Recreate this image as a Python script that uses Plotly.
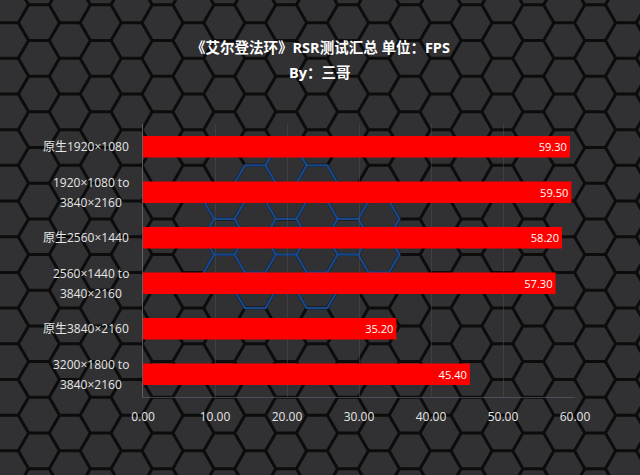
import math
import plotly.graph_objects as go

# 数据
labels = ['原生1920×1080', '1920×1080 to 3840×2160', '原生2560×1440',
          '2560×1440 to 3840×2160', '原生3840×2160', '3200×1800 to 3840×2160']
fps = [59.30, 59.50, 58.20, 57.30, 35.20, 45.40]
x_ticks = [0, 10, 20, 30, 40, 50, 60]

W, H = 640, 475
L, R, T, B = 143, 65, 124, 78
pw, ph = W - L - R, H - T - B

def to_paper(px, py):
    return (px - L) / pw, 1 - (py - T) / ph

# 六边形背景
s = 20.6
hh = math.sqrt(3) * s
def hex_path(cx, cy):
    pts = []
    for k in range(6):
        a = math.radians(60 * k)
        pts.append(to_paper(cx + s * math.cos(a), cy + s * math.sin(a)))
    return 'M' + 'L'.join('%.4f,%.4f' % p for p in pts) + 'Z'

black_path, blue_path = '', ''
for col in range(-1, 23):
    cx = 8 + col * 1.5 * s
    off = 4.8 if col % 2 == 0 else 4.8 + hh / 2
    for row in range(-1, 16):
        cy = off + row * hh
        black_path += hex_path(cx, cy)
        if ((cx - 290) / 95) ** 2 + ((cy - 235) / 70) ** 2 < 1:
            blue_path += hex_path(cx, cy)

x0, y1 = to_paper(0, 0)
x1, y0 = to_paper(W, H)
shapes = [
    dict(type='rect', xref='paper', yref='paper', x0=x0, x1=x1, y0=y0, y1=y1,
         fillcolor='#313133', line_width=0, layer='below'),
    dict(type='path', xref='paper', yref='paper', path=black_path,
         line=dict(color='#0c0c0c', width=3), layer='below'),
    dict(type='path', xref='paper', yref='paper', path=blue_path, opacity=0.55,
         line=dict(color='#2279f0', width=2.4), layer='below'),
]

fig = go.Figure(go.Bar(
    x=fps, y=labels, orientation='h', width=0.47,
    marker=dict(color='#ff0000', line_width=0),
    text=['%.2f' % v for v in fps], textposition='inside', insidetextanchor='end',
    textfont=dict(color='white', size=13, family='Open Sans, Noto Sans CJK SC'),
))

# 标题
ann = []
for txt, py in [('<b>《艾尔登法环》RSR测试汇总 单位：FPS</b>', 47), ('<b>By：三哥</b>', 72)]:
    ann.append(dict(text=txt, x=(320 - L) / pw, y=to_paper(0, py)[1], xref='paper', yref='paper',
                    xanchor='center', yanchor='middle', showarrow=False,
                    font=dict(size=14.5, color='white', family='Open Sans, Noto Sans CJK SC')))

# 纵轴标签（两行标签行距加大）
lab_font = dict(size=12, color='#e6e6e6', family='Open Sans, Noto Sans CJK SC')
for lab in labels:
    if ' to ' in lab:
        a, b = lab.split(' to ')
        ann.append(dict(text=a + ' to', x=0, y=lab, xref='paper', yref='y', xanchor='right',
                        yanchor='middle', xshift=-12, yshift=10, showarrow=False, font=lab_font))
        ann.append(dict(text=b, x=(91 - L) / pw, y=lab, xref='paper', yref='y', xanchor='center',
                        yanchor='middle', yshift=-10, showarrow=False, font=lab_font))
    else:
        ann.append(dict(text=lab, x=0, y=lab, xref='paper', yref='y', xanchor='right',
                        yanchor='middle', xshift=-12, showarrow=False, font=lab_font))

fig.update_layout(
    width=W, height=H,
    margin=dict(l=L, r=R, t=T, b=B),
    paper_bgcolor='#2a2a2c', plot_bgcolor='rgba(0,0,0,0)',
    font=dict(family='Open Sans, Noto Sans CJK SC', color='#e6e6e6', size=12),
    shapes=shapes, showlegend=False, annotations=ann,
)

fig.update_xaxes(range=[0, 60], tickvals=x_ticks, ticktext=['%.2f' % v for v in x_ticks],
                 showgrid=True, gridcolor='rgba(80,80,80,0.5)', gridwidth=1,
                 zeroline=False, showline=True, linecolor='rgba(90,100,120,0.6)',
                 ticks='', ticklabelstandoff=9, tickfont=dict(size=12, color='#e6e6e6'))
fig.update_yaxes(autorange='reversed', showline=True, linecolor='rgba(110,110,110,0.8)',
                 ticks='', showticklabels=False, showgrid=False)

fig.write_html('out.html', config={'displayModeBar': False},
               post_script="document.body.style.margin='0';document.body.style.background='#2a2a2c';")
